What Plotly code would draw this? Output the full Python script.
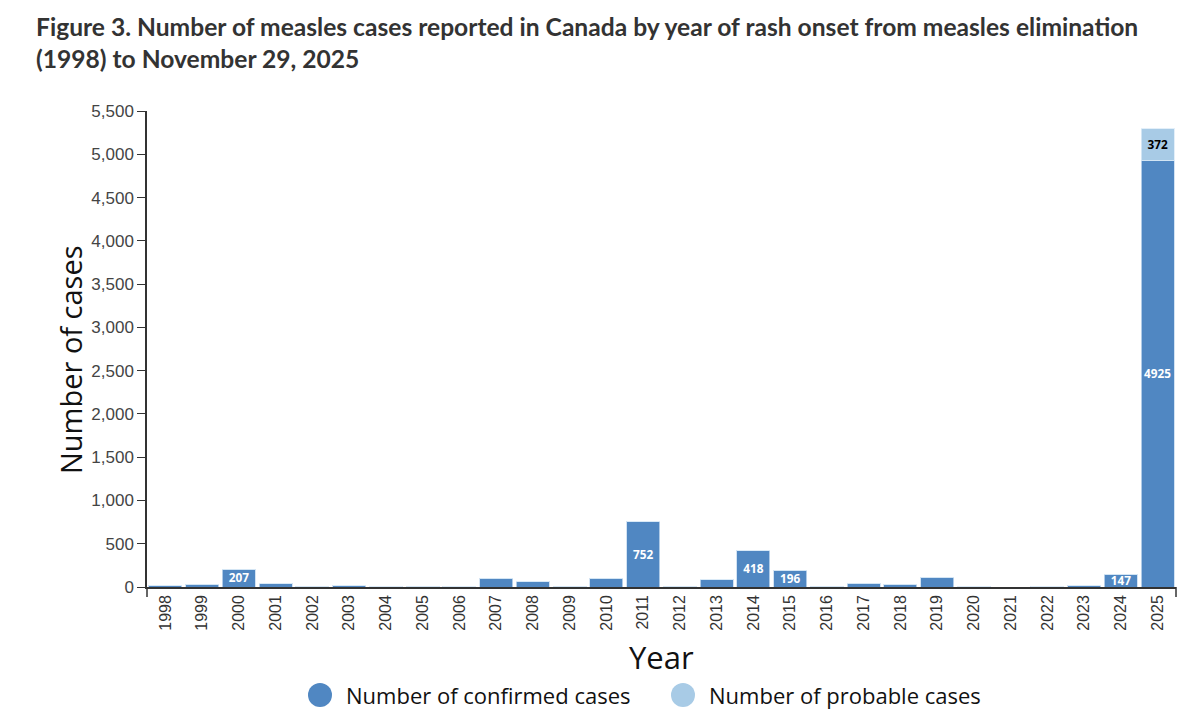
import plotly.graph_objects as go

years = [str(y) for y in range(1998, 2026)]
confirmed = [12, 29, 207, 37, 6, 14, 3, 6, 4, 101, 60, 10, 99, 752, 10, 83, 418, 196, 11, 45, 29, 113, 1, 0, 3, 12, 147, 4925]
probable = [0] * 27 + [372]
legend_names = ["Number of confirmed cases", "Number of probable cases"]

label_min = 140
conf_text = [f"{v}" if v >= label_min else "" for v in confirmed]
prob_text = [f"{v}" if v >= label_min else "" for v in probable]

c_conf = "#5087c2"
c_prob = "#a8cbe6"

fig = go.Figure()
fig.add_trace(go.Bar(
    x=years, y=confirmed, name=legend_names[0],
    marker=dict(color=c_conf, line=dict(color="rgba(200,220,240,0.8)", width=1)),
    text=conf_text, textposition="inside", insidetextanchor="middle", textangle=0,
    textfont=dict(family="Open Sans", size=12, color="white", weight="bold"),
    showlegend=False, hoverinfo="x+y",
))
fig.add_trace(go.Bar(
    x=years, y=probable, name=legend_names[1],
    marker=dict(color=c_prob, line=dict(color="rgba(220,235,248,0.8)", width=1)),
    text=prob_text, textposition="inside", insidetextanchor="middle", textangle=0,
    textfont=dict(family="Open Sans", size=12, color="black", weight="bold"),
    showlegend=False, hoverinfo="x+y",
))

PW, PH = 1029.0, 476.0  # plot area size in px
L, T, B0 = 147, 111, 587

def px_x(p):
    return (p - L) / PW

def px_y(p):
    return (B0 - p) / PH

fig.update_layout(
    width=1200, height=728,
    barmode="stack", bargap=0.1,
    plot_bgcolor="white", paper_bgcolor="white",
    margin=dict(l=147, r=24, t=111, b=141, autoexpand=False),
    uniformtext=dict(minsize=11, mode="show"),
    showlegend=False,
    font=dict(family="Liberation Sans"),
)
fig.add_annotation(
    text="<b>Figure 3. Number of measles cases reported in Canada by year of rash onset from measles elimination<br>(1998) to November 29, 2025</b>",
    xref="paper", yref="paper", x=px_x(34), y=px_y(10), xanchor="left", yanchor="top",
    align="left", showarrow=False,
    font=dict(family="Lato", size=24.6, color="#333333"),
)
fig.update_xaxes(
    type="category", range=[-0.5, 27.5], showline=True, linecolor="#333333", linewidth=1.5,
    ticks="", tickangle=-90, tickfont=dict(family="Liberation Sans", size=16, color="#333333"),
    showgrid=False, zeroline=False, fixedrange=True,
)
fig.update_yaxes(
    range=[0, 5500], dtick=500, tickformat=",", showline=True, linecolor="#333333", linewidth=1.5,
    ticks="outside", ticklen=8, tickcolor="#333333", tickwidth=1.2,
    tickfont=dict(family="Liberation Sans", size=17, color="#444444"),
    showgrid=False, zeroline=False, fixedrange=True,
)
# outer ticks of the x axis (ends)
for xp in [0, 1]:
    fig.add_shape(type="line", xref="paper", yref="paper", x0=xp, x1=xp, y0=0, y1=-0.021,
                  line=dict(color="#333333", width=1.5))

fig.add_annotation(text="Number of cases", xref="paper", yref="paper", x=px_x(70), y=px_y(360),
                   textangle=-90, showarrow=False, xanchor="center", yanchor="middle",
                   font=dict(family="Open Sans", size=29, color="#111111"))
fig.add_annotation(text="Year", xref="paper", yref="paper", x=0.5, y=px_y(657),
                   showarrow=False, xanchor="center", yanchor="middle",
                   font=dict(family="Open Sans", size=31, color="#111111"))

# legend: circle swatches + labels
for name, col, cx in [(legend_names[0], c_conf, 320), (legend_names[1], c_prob, 683)]:
    fig.add_shape(type="circle", xref="paper", yref="paper",
                  xsizemode="pixel", ysizemode="pixel",
                  xanchor=px_x(cx), yanchor=px_y(695),
                  x0=-12, x1=12, y0=-12, y1=12,
                  fillcolor=col, line=dict(width=0))
    fig.add_annotation(text=name, xref="paper", yref="paper", x=px_x(cx + 24), y=px_y(695),
                       showarrow=False, xanchor="left", yanchor="middle",
                       font=dict(family="Open Sans", size=22, color="#111111"))

fig.write_html("out.html")
